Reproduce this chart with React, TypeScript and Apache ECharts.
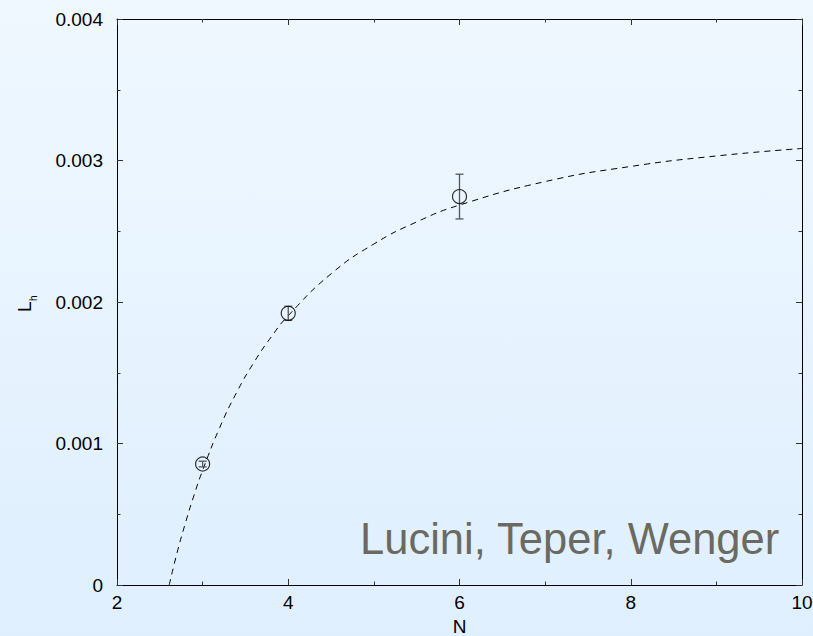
import React, { useEffect, useRef } from "react";
import * as echarts from "echarts";

// Measured points
const pointN = [3, 4, 6];
const pointL = [0.000855, 0.00192, 0.002745];
const pointErr = [0.00002, 0.00005, 0.000158];

// Dashed fit curve
const curveN = [2.61, 2.7, 2.8, 2.9, 3.0, 3.2, 3.4, 3.6, 3.8, 4.0, 4.5, 5.0, 5.5, 6.0, 7.0, 8.0, 9.0, 10.0];
const curveL = [0.0, 0.000224, 0.00044, 0.000635, 0.00081, 0.001113, 0.001364, 0.001574, 0.001752, 0.001904, 0.002199, 0.00241, 0.002566, 0.002685, 0.002851, 0.002958, 0.003032, 0.003085];

const xTickLabels = ["2", "4", "6", "8", "10"];
const yTickLabels = ["0", "0.001", "0.002", "0.003", "0.004"];

const FONT = "Liberation Sans, Arial, Helvetica, sans-serif";

export default function App() {
  const ref = useRef<HTMLDivElement>(null);
  useEffect(() => {
    if (!ref.current) return;
    const chart = echarts.init(ref.current, null, { renderer: "svg" });
    const axisCommon = {
      axisLine: { show: true, onZero: false, lineStyle: { color: "#000", width: 1 } },
      axisTick: { show: true, inside: true, length: 6, lineStyle: { color: "#333" } },
      minorTick: { show: true, splitNumber: 2, length: 3.5, lineStyle: { color: "#333" } },
      splitLine: { show: false },
      minorSplitLine: { show: false },
    };
    const xLabelMap: Record<string, string> = {};
    [2, 4, 6, 8, 10].forEach((v, i) => (xLabelMap[String(v)] = xTickLabels[i]));
    const yLabelMap: Record<string, string> = {};
    [0, 0.001, 0.002, 0.003, 0.004].forEach((v, i) => (yLabelMap[v.toFixed(3)] = yTickLabels[i]));

    chart.setOption({
      animation: false,
      backgroundColor: "transparent",
      grid: { left: 117, right: 11, top: 19, bottom: 51, containLabel: false, outerBoundsMode: "none" },
      xAxis: [
        {
          type: "value",
          min: 2,
          max: 10,
          interval: 2,
          position: "bottom",
          name: "N",
          nameLocation: "middle",
          nameGap: 30,
          nameTextStyle: { color: "#000", fontSize: 19, fontFamily: FONT },
          axisLabel: {
            color: "#000",
            fontSize: 19,
            fontFamily: FONT,
            margin: 8,
            formatter: (v: number) => xLabelMap[String(v)] ?? String(v),
          },
          ...axisCommon,
        },
        {
          type: "value",
          min: 2,
          max: 10,
          interval: 2,
          position: "top",
          axisLabel: { show: false },
          ...axisCommon,
        },
      ],
      yAxis: [
        {
          type: "value",
          min: 0,
          max: 0.004,
          interval: 0.001,
          position: "left",
          axisLabel: {
            color: "#000",
            fontSize: 19,
            fontFamily: FONT,
            margin: 14,
            formatter: (v: number) => yLabelMap[v.toFixed(3)] ?? String(v),
          },
          ...axisCommon,
        },
        {
          type: "value",
          min: 0,
          max: 0.004,
          interval: 0.001,
          position: "right",
          axisLabel: { show: false },
          ...axisCommon,
        },
      ],
      series: [
        {
          type: "line",
          data: curveN.map((n, i) => [n, curveL[i]]),
          smooth: true,
          showSymbol: false,
          symbol: "none",
          lineStyle: { color: "#000", width: 1, type: [6, 5] },
          z: 2,
        },
        {
          type: "custom",
          data: pointN.map((n, i) => [n, pointL[i] - pointErr[i], pointL[i] + pointErr[i]]),
          renderItem: (params: any, api: any) => {
            const x = api.value(0);
            const lo = api.coord([x, api.value(1)]);
            const hi = api.coord([x, api.value(2)]);
            const cap = 4;
            const style = { stroke: "#555", lineWidth: 1.3 };
            return {
              type: "group",
              children: [
                { type: "line", shape: { x1: lo[0], y1: lo[1], x2: hi[0], y2: hi[1] }, style },
                { type: "line", shape: { x1: lo[0] - cap, y1: lo[1], x2: lo[0] + cap, y2: lo[1] }, style },
                { type: "line", shape: { x1: hi[0] - cap, y1: hi[1], x2: hi[0] + cap, y2: hi[1] }, style },
              ],
            };
          },
          z: 3,
        },
        {
          type: "scatter",
          data: pointN.map((n, i) => [n, pointL[i]]),
          symbol: "circle",
          symbolSize: 14,
          itemStyle: { color: "rgba(0,0,0,0)", borderColor: "#000", borderWidth: 1.2 },
          z: 4,
        },
      ],
      graphic: [
        {
          type: "text",
          right: 33,
          top: 517,
          style: {
            text: "Lucini, Teper, Wenger",
            fontSize: 43.5,
            fontFamily: FONT,
            fill: "#6b6a62",
          },
          z: 10,
        },
        {
          type: "group",
          x: 34,
          y: 312,
          rotation: Math.PI / 2,
          children: [
            {
              type: "text",
              x: 0,
              y: 0,
              style: { text: "L", fontSize: 19, fontFamily: FONT, fill: "#000", textVerticalAlign: "bottom" },
            },
            {
              type: "text",
              x: 11,
              y: 4,
              style: { text: "h", fontSize: 10, fontFamily: FONT, fill: "#000", textVerticalAlign: "bottom" },
            },
          ],
        },
      ],
    });
    return () => chart.dispose();
  }, []);
  return (
    <div
      style={{
        position: "fixed",
        left: 0,
        top: 0,
        width: 813,
        height: 636,
        background: "linear-gradient(to bottom, #eff8ff, #dfeffe)",
      }}
    >
      <div ref={ref} style={{ width: 813, height: 636 }} />
    </div>
  );
}
